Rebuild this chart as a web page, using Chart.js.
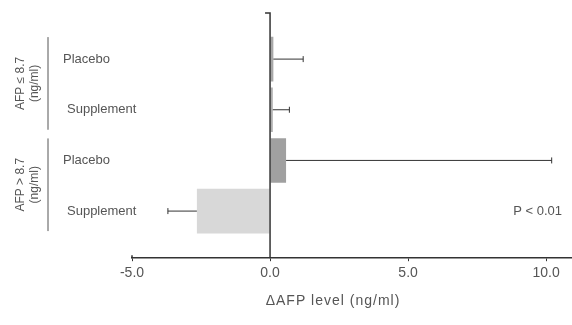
<!DOCTYPE html>
<html>
<head>
<meta charset="utf-8">
<script src="https://cdn.jsdelivr.net/npm/chart.js@4.4.0/dist/chart.umd.min.js"></script>
<style>
  html, body { margin: 0; padding: 0; background: #fff; }
  #wrap { width: 572px; height: 325px; position: relative; }
</style>
</head>
<body>
<div id="wrap"><canvas id="afpChart"></canvas></div>
<script>
// 데이터
const categories = ['Placebo', 'Supplement', 'Placebo', 'Supplement'];
const groups = [['AFP ≤ 8.7', '(ng/ml)'], ['AFP > 8.7', '(ng/ml)']];
const deltaAfp = [0.12, 0.1, 0.58, -2.65];
const errorEnds = [1.2, 0.7, 10.2, -3.7];
const xTicks = [-5, 0, 5, 10];
const barColors = ['#a8a8a8', '#b0b0b0', '#a0a0a0', '#d8d8d8'];
const xTitle = 'ΔAFP level (ng/ml)';
const pText = 'P < 0.01';

const FONT = '"Liberation Sans", Arial, sans-serif';
const TEXT_COLOR = '#555';

// 에러바, y축, 그룹 라벨 그리기
const extrasPlugin = {
    id: 'extras',
    afterDatasetsDraw(chart) {
        const ctx = chart.ctx;
        const xs = chart.scales.x;
        const ys = chart.scales.y;
        const area = chart.chartArea;
        const x0 = xs.getPixelForValue(0);

        ctx.save();

        // 에러바
        ctx.strokeStyle = '#333';
        ctx.lineWidth = 1;
        errorEnds.forEach((e, i) => {
            const y = ys.getPixelForValue(i + 1);
            const xa = xs.getPixelForValue(deltaAfp[i]);
            const xb = xs.getPixelForValue(e);
            ctx.beginPath();
            ctx.moveTo(xa, y);
            ctx.lineTo(xb, y);
            ctx.moveTo(xb, y - 3);
            ctx.lineTo(xb, y + 3);
            ctx.stroke();
        });

        // y축 (0 위치)
        ctx.strokeStyle = '#333';
        ctx.lineWidth = 1.5;
        ctx.beginPath();
        ctx.moveTo(x0 - 5, area.top);
        ctx.lineTo(x0, area.top);
        ctx.lineTo(x0, area.bottom);
        ctx.stroke();

        // x축 왼쪽 끝 표시
        ctx.beginPath();
        ctx.moveTo(area.left, area.bottom - 3);
        ctx.lineTo(area.left, area.bottom);
        ctx.stroke();

        // 카테고리 라벨
        ctx.fillStyle = TEXT_COLOR;
        ctx.font = '13px ' + FONT;
        ctx.textBaseline = 'middle';
        ctx.textAlign = 'left';
        categories.forEach((c, i) => {
            const y = ys.getPixelForValue(i + 1);
            ctx.fillText(c, c === 'Placebo' ? 63 : 67, y);
        });

        // 그룹 괄호선과 회전 라벨
        ctx.strokeStyle = '#555';
        ctx.lineWidth = 1;
        ctx.font = '12px ' + FONT;
        groups.forEach((g, gi) => {
            const yA = ys.getPixelForValue(gi * 2 + 1);
            const yB = ys.getPixelForValue(gi * 2 + 2);
            const top = yA - 22;
            const bottom = yB + 20;
            ctx.beginPath();
            ctx.moveTo(48, top);
            ctx.lineTo(48, bottom);
            ctx.stroke();

            const cy = (top + bottom) / 2;
            ctx.save();
            ctx.translate(0, cy);
            ctx.rotate(-Math.PI / 2);
            ctx.textAlign = 'center';
            ctx.fillText(g[0], 0, 21);
            ctx.fillText(g[1], 0, 35);
            ctx.restore();
        });

        // P 값
        ctx.font = '13px ' + FONT;
        ctx.textAlign = 'right';
        ctx.fillText(pText, 562, ys.getPixelForValue(4));

        // x축 제목
        ctx.font = '14px ' + FONT;
        ctx.letterSpacing = '1px';
        ctx.textAlign = 'center';
        ctx.fillText(xTitle, 333, 301);

        ctx.restore();
    }
};

const points = deltaAfp.map((v, i) => ({ x: v, y: i + 1 }));

new Chart(document.getElementById('afpChart'), {
    type: 'bar',
    data: {
        datasets: [{
            data: points,
            backgroundColor: barColors,
            borderWidth: 0,
            barPercentage: 0.88,
            categoryPercentage: 1
        }]
    },
    options: {
        indexAxis: 'y',
        responsive: true,
        maintainAspectRatio: false,
        animation: false,
        layout: {
            padding: { left: 132, right: 1, top: 13, bottom: 39 }
        },
        plugins: {
            legend: { display: false },
            tooltip: { enabled: false }
        },
        scales: {
            x: {
                type: 'linear',
                min: -5,
                max: 10.9,
                afterBuildTicks: (scale) => {
                    scale.ticks = xTicks.map(v => ({ value: v }));
                },
                grid: {
                    drawOnChartArea: false,
                    drawTicks: true,
                    tickLength: 3,
                    color: '#333'
                },
                border: { color: '#333', width: 1.5 },
                ticks: {
                    padding: 4,
                    color: TEXT_COLOR,
                    font: { family: FONT, size: 14 },
                    callback: (v) => Number(v).toFixed(1)
                }
            },
            y: {
                type: 'linear',
                reverse: true,
                offset: false,
                grid: { offset: false },
                min: 0.09,
                max: 4.93,
                afterBuildTicks: (scale) => {
                    scale.ticks = categories.map((c, i) => ({ value: i + 1 }));
                },
                display: false
            }
        }
    },
    plugins: [extrasPlugin]
});
</script>
</body>
</html>
